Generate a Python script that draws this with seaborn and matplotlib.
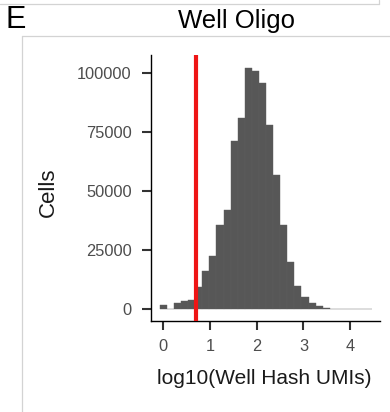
import numpy as np
import pandas as pd
import matplotlib
matplotlib.use("Agg")
import matplotlib.pyplot as plt
from matplotlib.lines import Line2D
import seaborn as sns

# ---- data ----
bin_width = 0.1517
bin_index = list(range(30))
cell_counts = [1700, 0, 2800, 3500, 4100, 9500, 16200, 22500, 35700, 42100,
               71200, 80800, 101900, 100800, 95600, 77700, 56700, 35500, 20000, 9700,
               5200, 2700, 1500, 700, 300, 150, 80, 40, 20, 10]
threshold = 0.7
x_ticks = [0, 1, 2, 3, 4]
y_ticks = [0, 25000, 50000, 75000, 100000]
title = "Well Oligo"
panel_letter = "E"
x_label = "log10(Well Hash UMIs)"
y_label = "Cells"

centers = np.array(bin_index) * bin_width
lo = float(centers[0] - bin_width / 2)
hi = float(centers[-1] + bin_width / 2)
df = pd.DataFrame({"umi": centers, "cells": cell_counts})

sns.set_style("ticks")
plt.rcParams["font.family"] = ["Liberation Sans", "DejaVu Sans"]

W, H = 390, 412
fig = plt.figure(figsize=(W / 100, H / 100), dpi=100)
ax = fig.add_axes([151 / W, (H - 321) / H, 229 / W, 266 / H])

sns.histplot(data=df, x="umi", weights="cells", binwidth=bin_width, binrange=(lo, hi), ax=ax,
             color="#575757", edgecolor="#5e5e5e", linewidth=0.3, alpha=1)
ax.axvline(threshold, color="#ee1515", lw=3.0, zorder=5)

ax.set_xlim(-0.265, 4.64)
ax.set_ylim(-4940, 107400)
ax.set_xticks(x_ticks)
ax.set_yticks(y_ticks)
ax.set_xticklabels([str(t) for t in x_ticks])
ax.set_yticklabels([str(t) for t in y_ticks])
ax.tick_params(axis="both", length=6.5, width=1.5, color="#333333",
               labelsize=11.8, labelcolor="#4d4d4d")
ax.tick_params(axis="y", pad=7.5)
ax.tick_params(axis="x", pad=6.5)
for s in ["left", "bottom"]:
    ax.spines[s].set_linewidth(1.0)
    ax.spines[s].set_color("black")
sns.despine(ax=ax)
ax.set_xlabel("")
ax.set_ylabel("")

fig.text(264.5 / W, 1 - 378 / H, x_label, ha="center", va="center", fontsize=15, color="#1a1a1a")
fig.text(48.5 / W, 1 - 192.5 / H, y_label, ha="center", va="center", rotation=90,
         fontsize=16, color="#1a1a1a")
fig.text(237 / W, 1 - 28.3 / H, title, ha="center", va="baseline", fontsize=18.5, color="black")
fig.text(5.5 / W, 1 - 28.5 / H, panel_letter, ha="left", va="baseline", fontsize=22, color="black")

# surrounding frame lines of the composite figure
gc = "#d3d3d3"
fig.add_artist(Line2D([0, 379 / W], [1 - 4.3 / H, 1 - 4.3 / H], color=gc, lw=0.9, transform=fig.transFigure))
fig.add_artist(Line2D([379 / W, 379 / W], [1 - 4.3 / H, 1], color=gc, lw=0.9, transform=fig.transFigure))
fig.add_artist(Line2D([21.7 / W, 1], [1 - 36 / H, 1 - 36 / H], color=gc, lw=0.9, transform=fig.transFigure))
fig.add_artist(Line2D([21.7 / W, 21.7 / W], [0, 1 - 36 / H], color=gc, lw=0.9, transform=fig.transFigure))

fig.savefig("out.png", dpi=100)
